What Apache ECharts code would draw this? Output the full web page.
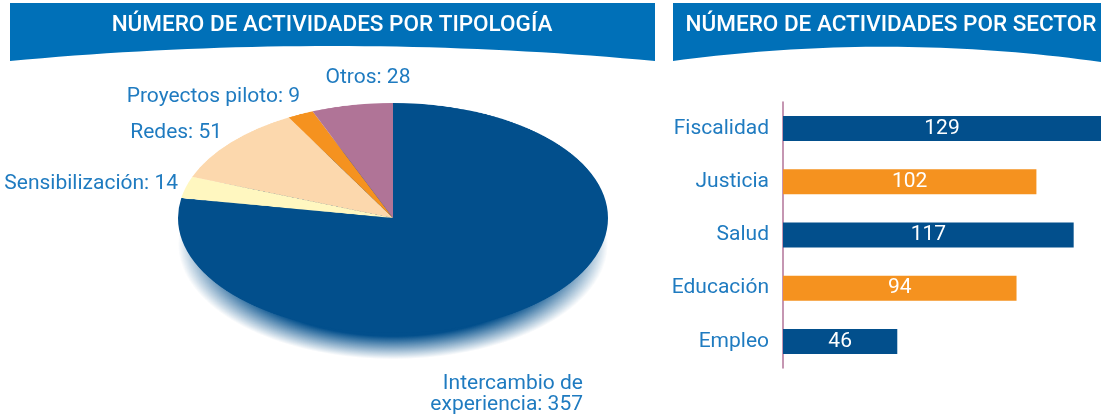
<!DOCTYPE html>
<html><head><meta charset="utf-8">
<script src="https://cdn.jsdelivr.net/npm/echarts@6/dist/echarts.min.js"></script>
<style>
html,body{margin:0;padding:0;background:#fff;overflow:hidden;}
#main{position:absolute;left:0;top:0;width:1101px;height:419px;}
#pie{position:absolute;left:173px;top:-2px;width:440px;height:500px;transform-origin:220px 220px;transform:scaleY(0.535);}
</style></head><body>
<div id="main"></div><div id="pie"></div>
<script>
const titles = ['NÚMERO DE ACTIVIDADES POR TIPOLOGÍA', 'NÚMERO DE ACTIVIDADES POR SECTOR'];
const pieCategories = ['Intercambio de experiencia', 'Sensibilización', 'Redes', 'Proyectos piloto', 'Otros'];
const pieValues = [357, 14, 51, 9, 28];
const barCategories = ['Fiscalidad', 'Justicia', 'Salud', 'Educación', 'Empleo'];
const barValues = [129, 102, 117, 94, 46];

const BLUE = '#024f8c', ORANGE = '#f5921f', TEXT = '#1f7bc0', BANNER = '#0070b8';
const pieColors = [BLUE, '#fff7c0', '#fcd8ad', ORANGE, '#b07497'];

// Pie (rendered circular, squashed into an ellipse by CSS)
const pie = echarts.init(document.getElementById('pie'), null, {renderer: 'canvas'});
const total = pieValues.reduce((a, b) => a + b, 0);
pie.setOption({
  animation: false,
  series: [
    {
      type: 'pie', center: [220, 269], radius: 215, silent: true, z: 1,
      label: {show: false}, labelLine: {show: false},
      data: [{value: total, itemStyle: {color: {type: 'radial', x: 0.5, y: 0.5, r: 0.5,
        colorStops: [{offset: 0, color: BLUE}, {offset: 0.8, color: BLUE}, {offset: 1, color: 'rgba(2,79,140,0)'}]}}}]
    },
    {
      type: 'pie', center: [220, 220], radius: 215, startAngle: 90, clockwise: true, z: 2,
      silent: true, label: {show: false}, labelLine: {show: false},
      data: pieCategories.map((n, i) => ({name: n, value: pieValues[i], itemStyle: {color: pieColors[i]}}))
    }
  ]
});

// Banner shapes: rectangle with a concave (quadratic) bottom edge
function bannerPoints(x0, x1, yTop, yL, yR, cx, cy) {
  const pts = [[x0, yTop], [x1, yTop], [x1, yR]];
  const n = 40;
  for (let k = 1; k < n; k++) {
    const t = k / n, u = 1 - t;
    pts.push([u * u * x1 + 2 * u * t * cx + t * t * x0, u * u * yR + 2 * u * t * cy + t * t * yL]);
  }
  pts.push([x0, yL]);
  return pts;
}

const main = echarts.init(document.getElementById('main'), null, {renderer: 'canvas'});
const lbl = (i) => (i === 0 ? pieCategories[i].replace(' de ', ' de\n') : pieCategories[i]) + ': ' + pieValues[i];
const pieLabelPos = [
  {x: 583, y: 394, align: 'right'},
  {x: 178, y: 184, align: 'right'},
  {x: 222, y: 133, align: 'right'},
  {x: 300, y: 97, align: 'right'},
  {x: 368, y: 78, align: 'center'}
];
const graphics = [
  {type: 'polygon', shape: {points: bannerPoints(10, 655, 3, 61, 61, 332, 31)}, style: {fill: BANNER}},
  {type: 'polygon', shape: {points: bannerPoints(673, 1101, 3, 61, 62, 887, 32)}, style: {fill: BANNER}},
  {type: 'text', x: 332, y: 25, style: {text: titles[0], fill: '#fff', fontSize: 22.5, fontWeight: 500, fontFamily: 'Roboto',
    align: 'center', verticalAlign: 'middle'}},
  {type: 'text', x: 891, y: 25, style: {text: titles[1], fill: '#fff', fontSize: 22.5, fontWeight: 500, fontFamily: 'Roboto',
    align: 'center', verticalAlign: 'middle'}}
];
pieLabelPos.forEach((p, i) => {
  graphics.push({type: 'text', x: p.x, y: p.y, style: {text: lbl(i), fill: TEXT, fontSize: 21, fontFamily: 'Roboto',
    lineHeight: 21, align: p.align, verticalAlign: 'middle'}});
});

main.setOption({
  animation: false,
  grid: {left: 783, top: 102, right: 0, height: 266},
  xAxis: {type: 'value', min: 0, max: 128, show: false},
  yAxis: {
    type: 'category', data: barCategories, inverse: true,
    axisLine: {show: true, lineStyle: {color: '#b27399', width: 1.5}},
    axisTick: {show: false},
    axisLabel: {color: TEXT, fontSize: 21, fontFamily: 'Roboto', margin: 14}
  },
  series: [{
    type: 'bar', barWidth: 25,
    data: barValues.map((v, i) => ({value: v, itemStyle: {color: i % 2 ? ORANGE : BLUE}})),
    label: {show: true, position: 'inside', color: '#fff', fontSize: 21, fontFamily: 'Roboto'}
  }],
  graphic: graphics
});
</script>
</body></html>
